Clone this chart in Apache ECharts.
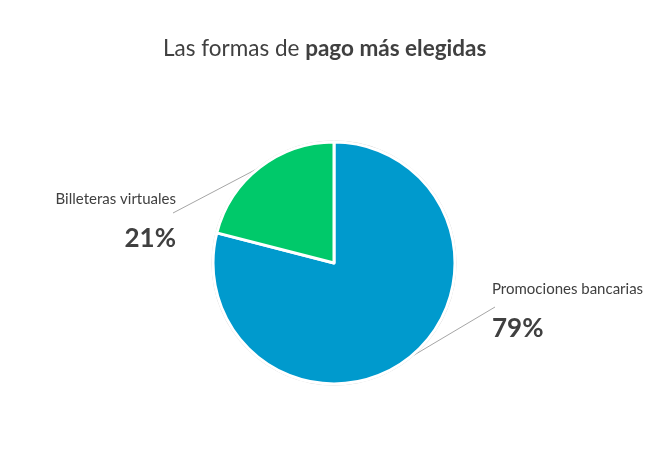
<!DOCTYPE html>
<html>
<head>
    <meta charset="utf-8">
    <title>Las formas de pago más elegidas</title>
    <script type="text/javascript" src="https://cdn.jsdelivr.net/npm/echarts@6/dist/echarts.min.js"></script>
    <style>
        html, body { margin: 0; padding: 0; background: #fff; }
    </style>
</head>
<body>
<div id="main" style="width: 672px;height:464px;"></div>
    <script type="text/javascript">
        // datos
        var categorias = ['Promociones bancarias', 'Billeteras virtuales'];
        var valores = [79, 21];
        var colores = ['#009acd', '#00c96a'];

        var charts = echarts.init(document.getElementById('main'));

        var datos = categorias.map(function (c, i) {
            return { name: c, value: valores[i], itemStyle: { color: colores[i] } };
        });

        var option = {
            backgroundColor: '#fff',
            animation: false,
            title: {
                text: '{n|Las formas de }{b|pago más elegidas}',
                left: 158,
                top: 32,
                textStyle: {
                    fontWeight: 'normal',
                    rich: {
                        n: { fontFamily: 'Lato', fontSize: 22.5, fontWeight: 'normal', color: '#404040' },
                        b: { fontFamily: 'Lato', fontSize: 22.5, fontWeight: 'bold', color: '#404040' }
                    }
                }
            },
            series: [{
                // anillo gris fino
                type: 'pie',
                silent: true,
                center: [334, 263],
                radius: [121.5, 122.5],
                startAngle: 90,
                label: { show: false },
                labelLine: { show: false },
                itemStyle: { color: '#c8c8c8' },
                data: [1]
            }, {
                name: 'pago',
                type: 'pie',
                center: [334, 263],
                radius: [0, 121],
                startAngle: 90,
                clockwise: true,
                itemStyle: {
                    borderColor: '#fff',
                    borderWidth: 3
                },
                label: {
                    show: true,
                    position: 'outside',
                    formatter: '{n|{b}}\n{p|{d}%}',
                    rich: {
                        n: { fontFamily: 'Lato', fontSize: 15, color: '#404040', lineHeight: 38 },
                        p: { fontFamily: 'Lato', fontSize: 26, fontWeight: 'bold', color: '#404040', lineHeight: 42 }
                    }
                },
                labelLine: {
                    show: true,
                    lineStyle: { color: '#a6a6a6', width: 1 }
                },
                labelLayout: function (params) {
                    var izq = params.dataIndex === 1;
                    var inicio = params.labelLinePoints[0];
                    if (izq) {
                        return {
                            x: 176, y: 180, align: 'right', verticalAlign: 'top',
                            labelLinePoints: [inicio, [173, 213]]
                        };
                    }
                    return {
                        x: 492, y: 270, align: 'left', verticalAlign: 'top',
                        labelLinePoints: [inicio, [495, 307]]
                    };
                },
                data: datos
            }]
        };

        charts.setOption(option);
    </script>
</body>
</html>
